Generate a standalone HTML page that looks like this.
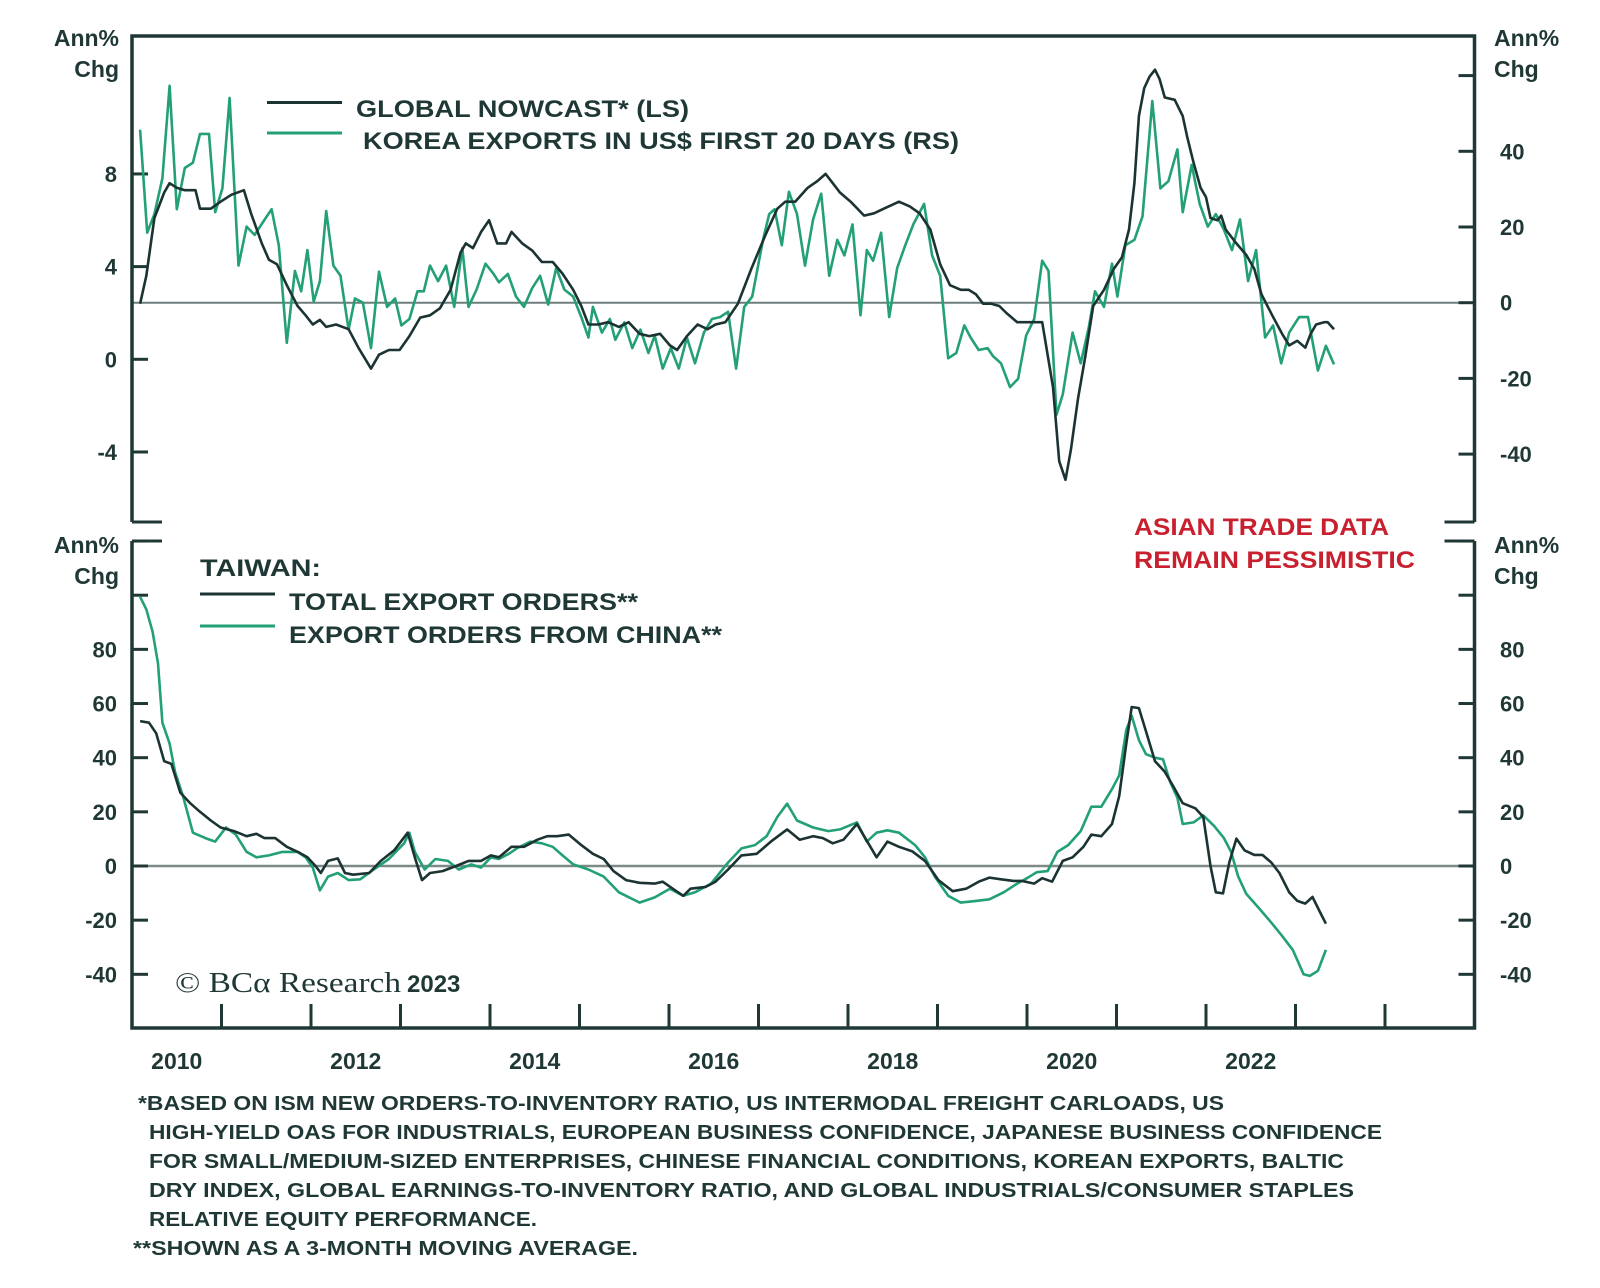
<!DOCTYPE html>
<html><head><meta charset="utf-8"><style>
html,body{margin:0;padding:0;background:#fff;}
svg{display:block;font-family:"Liberation Sans",sans-serif;}
.t{fill:#1f3836;font-weight:bold;}
</style></head><body>
<svg id="c" width="1600" height="1288" viewBox="0 0 1600 1288">
<g id="static">
<text class="t" x="119" y="46" font-size="23" text-anchor="end">Ann%</text>
<text class="t" x="119" y="77" font-size="23" text-anchor="end">Chg</text>
<text class="t" x="1494" y="46" font-size="23">Ann%</text>
<text class="t" x="1494" y="77" font-size="23">Chg</text>
<text class="t" x="119" y="553" font-size="23" text-anchor="end">Ann%</text>
<text class="t" x="119" y="584" font-size="23" text-anchor="end">Chg</text>
<text class="t" x="1494" y="553" font-size="23">Ann%</text>
<text class="t" x="1494" y="584" font-size="23">Chg</text>

<line x1="267" y1="102.5" x2="342" y2="102.5" stroke="#1b3433" stroke-width="3"/>
<text class="t" x="356" y="117" font-size="24" textLength="333" lengthAdjust="spacingAndGlyphs">GLOBAL NOWCAST* (LS)</text>
<line x1="267" y1="133" x2="342" y2="133" stroke="#23a075" stroke-width="3"/>
<text class="t" x="363" y="149" font-size="24" textLength="596" lengthAdjust="spacingAndGlyphs">KOREA EXPORTS IN US$ FIRST 20 DAYS (RS)</text>

<text class="t" x="200" y="576" font-size="24" textLength="121" lengthAdjust="spacingAndGlyphs">TAIWAN:</text>
<line x1="200" y1="594" x2="275" y2="594" stroke="#1b3433" stroke-width="3"/>
<text class="t" x="289" y="610" font-size="24" textLength="349" lengthAdjust="spacingAndGlyphs">TOTAL EXPORT ORDERS**</text>
<line x1="200" y1="626" x2="275" y2="626" stroke="#23a075" stroke-width="3"/>
<text class="t" x="289" y="643" font-size="24" textLength="433" lengthAdjust="spacingAndGlyphs">EXPORT ORDERS FROM CHINA**</text>

<text x="1134" y="535" font-size="24" font-weight="bold" fill="#c8202f" textLength="255" lengthAdjust="spacingAndGlyphs">ASIAN TRADE DATA</text>
<text x="1134" y="568" font-size="24" font-weight="bold" fill="#c8202f" textLength="281" lengthAdjust="spacingAndGlyphs">REMAIN PESSIMISTIC</text>

<text x="175" y="992" font-size="29" fill="#1f3836" font-family="Liberation Serif,serif"><tspan textLength="226" lengthAdjust="spacingAndGlyphs">© BCα Research</tspan><tspan font-family="Liberation Sans,sans-serif" font-weight="bold" font-size="24" dx="6">2023</tspan></text>

<g font-size="20" class="t">
<text class="t" x="138" y="1110" font-size="20" textLength="1086" lengthAdjust="spacingAndGlyphs">*BASED ON ISM NEW ORDERS-TO-INVENTORY RATIO, US INTERMODAL FREIGHT CARLOADS, US</text>
<text class="t" x="149" y="1139" font-size="20" textLength="1233" lengthAdjust="spacingAndGlyphs">HIGH-YIELD OAS FOR INDUSTRIALS, EUROPEAN BUSINESS CONFIDENCE, JAPANESE BUSINESS CONFIDENCE</text>
<text class="t" x="149" y="1168" font-size="20" textLength="1195" lengthAdjust="spacingAndGlyphs">FOR SMALL/MEDIUM-SIZED ENTERPRISES, CHINESE FINANCIAL CONDITIONS, KOREAN EXPORTS, BALTIC</text>
<text class="t" x="149" y="1197" font-size="20" textLength="1205" lengthAdjust="spacingAndGlyphs">DRY INDEX, GLOBAL EARNINGS-TO-INVENTORY RATIO, AND GLOBAL INDUSTRIALS/CONSUMER STAPLES</text>
<text class="t" x="149" y="1226" font-size="20" textLength="388" lengthAdjust="spacingAndGlyphs">RELATIVE EQUITY PERFORMANCE.</text>
<text class="t" x="133" y="1255" font-size="20" textLength="505" lengthAdjust="spacingAndGlyphs">**SHOWN AS A 3-MONTH MOVING AVERAGE.</text>
</g>
</g>
</svg>
<script>
// ---- data ----
const nowcastYears=[2010.09,2010.16,2010.25,2010.36,2010.42,2010.50,2010.59,2010.71,2010.76,2010.88,2010.99,2011.11,2011.25,2011.33,2011.45,2011.53,2011.62,2011.73,2011.85,2011.94,2012.02,2012.10,2012.17,2012.28,2012.42,2012.53,2012.67,2012.76,2012.87,2012.99,2013.10,2013.22,2013.33,2013.44,2013.56,2013.67,2013.73,2013.81,2013.90,2013.99,2014.08,2014.18,2014.24,2014.36,2014.47,2014.58,2014.70,2014.81,2014.93,2015.02,2015.10,2015.21,2015.32,2015.44,2015.55,2015.67,2015.78,2015.90,2016.01,2016.09,2016.20,2016.32,2016.43,2016.52,2016.63,2016.77,2016.92,2017.07,2017.21,2017.30,2017.41,2017.55,2017.66,2017.75,2017.83,2017.91,2018.03,2018.18,2018.29,2018.40,2018.57,2018.69,2018.80,2018.92,2019.03,2019.14,2019.26,2019.35,2019.43,2019.51,2019.60,2019.69,2019.77,2019.89,2020.00,2020.11,2020.17,2020.29,2020.36,2020.43,2020.49,2020.57,2020.65,2020.74,2020.86,2020.97,2021.06,2021.14,2021.20,2021.25,2021.31,2021.37,2021.43,2021.48,2021.54,2021.65,2021.74,2021.79,2021.86,2021.94,2022.00,2022.05,2022.13,2022.17,2022.22,2022.34,2022.45,2022.54,2022.62,2022.74,2022.85,2022.93,2023.02,2023.11,2023.17,2023.23,2023.32,2023.36,2023.43];
const nowcastValues=[2.4,3.6,6.1,7.2,7.6,7.4,7.3,7.3,6.5,6.5,6.8,7.1,7.3,6.3,5.0,4.3,4.1,3.2,2.3,1.9,1.5,1.7,1.4,1.5,1.3,0.5,-0.4,0.2,0.4,0.4,1.0,1.8,1.9,2.2,3.0,4.6,5.0,4.8,5.5,6.0,5.0,5.0,5.5,5.0,4.7,4.2,4.2,3.7,3.0,2.3,1.5,1.5,1.6,1.4,1.6,1.1,1.0,1.1,0.6,0.4,1.0,1.5,1.3,1.5,1.6,2.4,3.9,5.3,6.5,6.8,6.8,7.4,7.7,8.0,7.6,7.2,6.8,6.2,6.3,6.5,6.8,6.6,6.3,5.6,4.1,3.2,3.0,3.0,2.8,2.4,2.4,2.3,2.0,1.6,1.6,1.6,1.6,-1.2,-4.4,-5.2,-3.9,-1.7,0.1,2.3,3.0,3.9,4.4,5.6,7.6,10.5,11.7,12.2,12.5,12.1,11.3,11.2,10.5,9.6,8.5,7.4,7.0,6.1,6.0,6.2,5.6,5.0,4.5,3.9,2.8,1.9,1.1,0.6,0.8,0.5,1.1,1.5,1.6,1.6,1.3];
const koreaYears=[2010.09,2010.17,2010.25,2010.34,2010.42,2010.50,2010.59,2010.68,2010.76,2010.86,2010.93,2011.01,2011.09,2011.19,2011.28,2011.37,2011.46,2011.56,2011.64,2011.73,2011.82,2011.89,2011.96,2012.03,2012.10,2012.17,2012.25,2012.33,2012.42,2012.49,2012.58,2012.67,2012.76,2012.85,2012.94,2013.01,2013.10,2013.19,2013.26,2013.33,2013.42,2013.51,2013.60,2013.69,2013.76,2013.85,2013.95,2014.04,2014.10,2014.20,2014.29,2014.38,2014.47,2014.56,2014.65,2014.74,2014.83,2014.93,2015.02,2015.10,2015.15,2015.25,2015.34,2015.40,2015.50,2015.59,2015.68,2015.77,2015.84,2015.93,2016.02,2016.11,2016.20,2016.29,2016.39,2016.48,2016.57,2016.66,2016.75,2016.84,2016.93,2017.05,2017.12,2017.18,2017.26,2017.34,2017.43,2017.52,2017.61,2017.70,2017.79,2017.88,2017.96,2018.05,2018.14,2018.21,2018.28,2018.37,2018.46,2018.55,2018.64,2018.73,2018.85,2018.94,2019.03,2019.12,2019.21,2019.30,2019.37,2019.46,2019.56,2019.62,2019.71,2019.81,2019.90,2019.99,2020.08,2020.17,2020.24,2020.33,2020.40,2020.51,2020.60,2020.69,2020.76,2020.86,2020.95,2021.01,2021.10,2021.20,2021.29,2021.40,2021.49,2021.58,2021.68,2021.74,2021.84,2021.93,2022.02,2022.11,2022.20,2022.29,2022.38,2022.47,2022.56,2022.66,2022.75,2022.84,2022.93,2023.04,2023.14,2023.25,2023.34,2023.43];
const koreaValues=[45.7,18.5,23.4,32.9,57.3,24.7,35.6,37.0,44.6,44.6,23.9,30.2,54.1,9.8,20.1,17.9,21.2,24.7,15.2,-10.6,8.4,3.0,13.9,0.3,5.7,24.2,9.8,7.1,-7.1,1.1,0,-12.0,8.2,-1.1,1.1,-6.0,-4.3,3.0,3.0,9.8,5.7,9.8,-1.1,14.4,-1.1,3.5,10.3,7.6,5.4,7.6,1.6,-1.1,3.8,7.1,-0.5,9.2,3.5,1.6,-3.8,-9.2,-1.1,-7.9,-4.3,-9.8,-5.2,-12.0,-7.1,-13.3,-8.7,-17.4,-12.0,-17.4,-9.2,-16.0,-7.9,-4.3,-3.8,-2.4,-17.4,-1.1,1.6,16.6,23.4,24.7,15.2,29.3,23.4,9.8,22.0,28.8,7.1,16.6,12.5,20.7,-3.3,13.9,11.1,18.5,-3.8,9.2,15.2,20.7,26.1,12.5,7.1,-14.7,-13.3,-6.0,-9.2,-12.5,-12.0,-14.1,-16.0,-22.3,-20.1,-8.7,-4.3,11.1,8.4,-29.6,-24.2,-7.9,-16.0,-6.5,3.0,-1.1,10.3,1.6,15.2,16.6,22.8,53.3,30.2,32.1,40.5,23.9,36.4,26.1,20.1,23.4,19.3,13.9,22.0,5.7,13.9,-9.2,-6.0,-16.0,-7.9,-3.8,-3.8,-17.9,-11.4,-16.3];
const totalYears=[2010.09,2010.19,2010.27,2010.36,2010.44,2010.54,2010.65,2010.76,2010.88,2010.99,2011.14,2011.28,2011.39,2011.48,2011.60,2011.73,2011.87,2011.96,2012.05,2012.11,2012.19,2012.30,2012.38,2012.47,2012.65,2012.78,2012.93,2013.08,2013.16,2013.24,2013.33,2013.47,2013.62,2013.76,2013.90,2014.01,2014.10,2014.24,2014.38,2014.53,2014.64,2014.75,2014.88,2015.02,2015.15,2015.27,2015.38,2015.52,2015.67,2015.84,2015.93,2016.07,2016.16,2016.24,2016.41,2016.52,2016.66,2016.81,2016.98,2017.15,2017.32,2017.46,2017.61,2017.72,2017.83,2017.95,2018.10,2018.18,2018.32,2018.44,2018.57,2018.72,2018.86,2019.01,2019.17,2019.32,2019.46,2019.58,2019.71,2019.85,2019.94,2020.08,2020.17,2020.28,2020.40,2020.51,2020.63,2020.72,2020.83,2020.95,2021.03,2021.11,2021.17,2021.25,2021.33,2021.43,2021.54,2021.63,2021.74,2021.88,2021.97,2022.05,2022.11,2022.19,2022.26,2022.34,2022.43,2022.54,2022.63,2022.73,2022.82,2022.93,2023.02,2023.11,2023.19,2023.27,2023.34];
const totalValues=[53.5,52.9,49.0,38.7,37.7,27.1,23.2,20.0,16.8,14.2,12.9,11.0,11.9,10.3,10.3,7.1,4.9,3.2,0,-2.6,1.9,2.8,-2.6,-3.2,-2.6,1.9,5.8,12.3,3.2,-5.2,-2.6,-1.9,0,1.9,1.9,3.9,3.2,7.1,7.1,9.7,11.0,11.0,11.6,7.7,4.5,2.6,-1.9,-5.2,-6.2,-6.5,-5.8,-9.0,-11.0,-8.4,-7.7,-5.8,-1.3,3.9,4.5,9.3,13.5,9.7,11.0,10.3,8.4,9.7,15.5,11.0,3.2,9.0,7.1,5.4,1.9,-5.2,-9.3,-8.4,-5.8,-4.3,-4.9,-5.5,-5.5,-6.5,-4.5,-5.8,1.9,3.2,7.1,11.6,11.0,15.5,25.8,45.2,58.7,58.3,49.7,38.7,34.8,29.7,23.2,21.3,18.1,0,-9.7,-10.1,1.3,10.1,5.8,4.1,4.1,1.3,-2.6,-9.7,-12.9,-13.9,-11.4,-16.8,-21.3];
const chinaYears=[2010.09,2010.16,2010.23,2010.29,2010.34,2010.42,2010.48,2010.57,2010.68,2010.82,2010.93,2011.05,2011.16,2011.28,2011.39,2011.53,2011.68,2011.85,2011.94,2012.02,2012.10,2012.19,2012.30,2012.42,2012.55,2012.70,2012.87,2013.04,2013.10,2013.16,2013.27,2013.39,2013.53,2013.65,2013.79,2013.90,2014.01,2014.10,2014.21,2014.30,2014.45,2014.58,2014.70,2014.81,2014.93,2015.10,2015.27,2015.44,2015.67,2015.84,2016.01,2016.16,2016.29,2016.47,2016.66,2016.81,2016.96,2017.09,2017.21,2017.32,2017.43,2017.61,2017.78,2017.91,2018.10,2018.21,2018.32,2018.44,2018.57,2018.75,2018.86,2018.97,2019.12,2019.26,2019.43,2019.58,2019.74,2019.89,2020.00,2020.11,2020.23,2020.34,2020.46,2020.60,2020.72,2020.83,2020.95,2021.03,2021.11,2021.17,2021.25,2021.33,2021.43,2021.52,2021.60,2021.68,2021.74,2021.86,2021.97,2022.09,2022.20,2022.28,2022.36,2022.45,2022.59,2022.74,2022.85,2022.97,2023.09,2023.16,2023.25,2023.34];
const chinaValues=[99.4,94.8,86.5,74.8,52.9,45.2,34.8,25.8,12.3,10.3,9.0,14.2,11.6,5.2,3.2,3.9,5.2,5.2,3.2,-0.6,-9.0,-3.9,-2.6,-5.2,-4.9,-1.3,2.6,8.4,12.3,5.2,-1.3,2.6,1.9,-1.3,0.6,-0.6,3.2,2.6,4.5,6.5,9.0,8.4,7.1,3.9,0.6,-1.3,-3.9,-9.7,-13.5,-11.6,-8.4,-11.0,-9.7,-6.5,1.3,6.5,7.7,11.0,18.1,23.0,16.8,14.2,12.9,13.5,16.1,9.0,12.3,13.2,12.3,7.7,3.2,-3.9,-11.0,-13.5,-12.9,-12.3,-9.7,-6.5,-4.5,-2.3,-1.9,5.2,7.7,12.9,21.9,21.9,28.4,33.5,50.3,55.5,46.5,41.3,40.0,39.4,31.0,25.2,15.5,16.1,18.7,14.8,10.3,5.2,-3.9,-10.3,-15.5,-21.3,-25.8,-31.0,-40.0,-40.6,-38.7,-31.0];
const topLeftTicks=[8,4,0,-4];
const topRightTicks=[60,40,20,0,-20,-40];
const topRightLabels=["","40","20","0","-20","-40"];
const bottomTicks=[120,100,80,60,40,20,0,-20,-40];
const bottomLabels=["","","80","60","40","20","0","-20","-40"];
const yearLabels=["2010","2012","2014","2016","2018","2020","2022"];

// ---- scales ----
const L=132,R=1474.5,X0=2010,X1=2025;
const x=y=>L+(y-X0)*(R-L)/(X1-X0);
const yLS=v=>359.3-v*23.17;
const yRS=v=>302.7-v*3.785;
const yB=v=>866-v*2.708;
const DARK="#1b3433",GREEN="#23a075",AX="#1f3836";
const svg=document.getElementById('c');
const NS="http://www.w3.org/2000/svg";
function mk(tag,attrs){const e=document.createElementNS(NS,tag);for(const k in attrs)e.setAttribute(k,attrs[k]);svg.appendChild(e);return e;}

// zero lines
let z=mk('line',{x1:L,x2:R,y1:yRS(0),y2:yRS(0),stroke:"#6f7e7d","stroke-width":2});


z=mk('line',{x1:L,x2:R,y1:yB(0),y2:yB(0),stroke:"#7d8988","stroke-width":2.5});



// frames
let f=mk('path',{d:`M${L},522 L${L},36 L${R},36 L${R},522`,fill:"none",stroke:AX,"stroke-width":3.5});


f=mk('path',{d:`M${L},541 L${L},1028 L${R},1028 L${R},541`,fill:"none",stroke:AX,"stroke-width":3.5});


// small stubs at panel ends
[[522],[541]].forEach(([yy])=>{
  let s=mk('line',{x1:L,x2:L+30,y1:yy,y2:yy,stroke:AX,"stroke-width":3});
  
  
  s=mk('line',{x1:R-30,x2:R,y1:yy,y2:yy,stroke:AX,"stroke-width":3});
  
  
});

// top-left ticks
topLeftTicks.forEach(v=>{
  const yy=yLS(v);
  const t=mk('line',{x1:L,x2:L+16,y1:yy,y2:yy,stroke:AX,"stroke-width":3});
  
  
  const lb=mk('text',{x:117,y:yy+8,"text-anchor":"end","font-size":22,"font-weight":"bold",fill:AX});
  lb.textContent=String(v);
  
  
});
topRightTicks.forEach((v,i)=>{
  const yy=yRS(v);
  const t=mk('line',{x1:R-16,x2:R,y1:yy,y2:yy,stroke:AX,"stroke-width":3});
  
  
  const lb=mk('text',{x:1500,y:yy+8,"font-size":22,"font-weight":"bold",fill:AX});
  lb.textContent=topRightLabels[i];
  
  
});
bottomTicks.forEach((v,i)=>{
  const yy=yB(v);
  let t=mk('line',{x1:L,x2:L+16,y1:yy,y2:yy,stroke:AX,"stroke-width":3});
  
  
  t=mk('line',{x1:R-16,x2:R,y1:yy,y2:yy,stroke:AX,"stroke-width":3});
  
  
  let lb=mk('text',{x:117,y:yy+8,"text-anchor":"end","font-size":22,"font-weight":"bold",fill:AX});
  lb.textContent=bottomLabels[i];
  
  
  lb=mk('text',{x:1500,y:yy+8,"font-size":22,"font-weight":"bold",fill:AX});
  lb.textContent=bottomLabels[i];
  
  
});
// x ticks
for(let yr=X0+1;yr<X1;yr++){
  const t=mk('line',{x1:x(yr),x2:x(yr),y1:1004,y2:1028,stroke:AX,"stroke-width":3});
  
  
}
yearLabels.forEach(s=>{
  const yr=+s;
  const lb=mk('text',{x:x(yr+0.5),y:1069,"text-anchor":"middle","font-size":23,"font-weight":"bold",fill:AX});
  lb.textContent=s;
  
  
});

function line(xs,vs,ys,color,name){
  const d=xs.map((t,i)=>(i?'L':'M')+x(t).toFixed(1)+','+ys(vs[i]).toFixed(1)).join(' ');
  const p=mk('path',{d:d,fill:"none",stroke:color,"stroke-width":2.6,"stroke-linejoin":"round"});
  
  
}
line(koreaYears,koreaValues,yRS,GREEN,'korea-exports-line');
line(nowcastYears,nowcastValues,yLS,DARK,'global-nowcast-line');
line(chinaYears,chinaValues,yB,GREEN,'china-export-orders-line');
line(totalYears,totalValues,yB,DARK,'total-export-orders-line');
</script>
</body></html>
